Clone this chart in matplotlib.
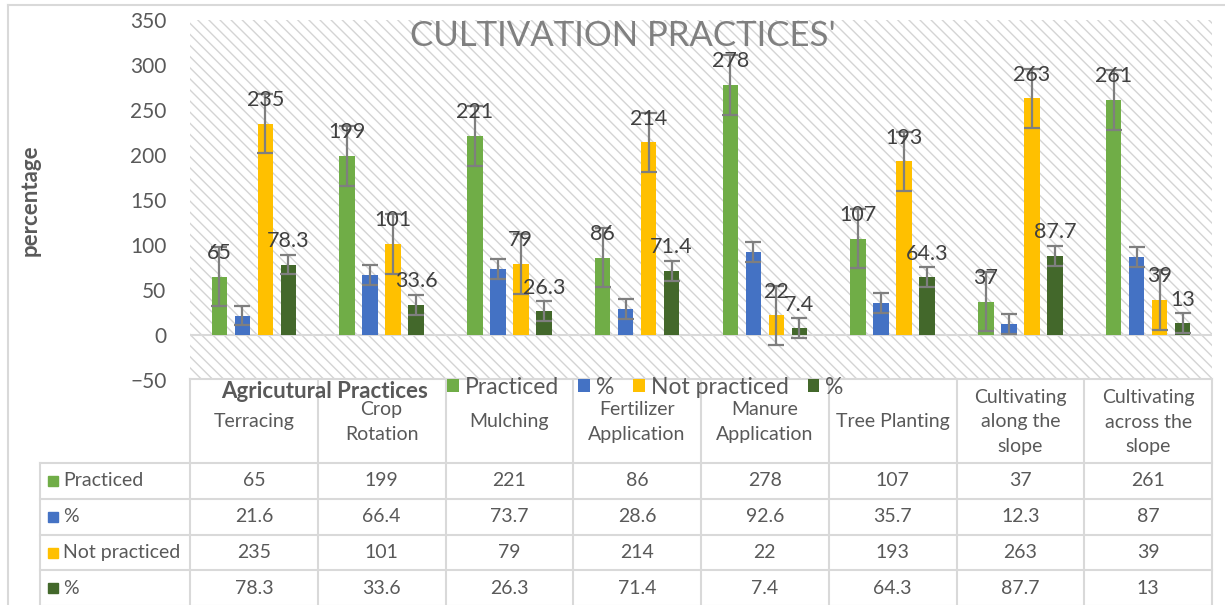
import numpy as np
import matplotlib.pyplot as plt
from matplotlib.patches import Rectangle

plt.rcParams['font.family'] = ['Lato', 'DejaVu Sans']
plt.rcParams['hatch.linewidth'] = 1.0
plt.rcParams['hatch.color'] = '#d4d4d4'

# data
practices = ['Terracing', 'Crop\nRotation', 'Mulching', 'Fertilizer\nApplication',
             'Manure\nApplication', 'Tree Planting', 'Cultivating\nalong the\nslope',
             'Cultivating\nacross the\nslope']
practiced = [65, 199, 221, 86, 278, 107, 37, 261]
practiced_pct = [21.6, 66.4, 73.7, 28.6, 92.6, 35.7, 12.3, 87]
not_practiced = [235, 101, 79, 214, 22, 193, 263, 39]
not_practiced_pct = [78.3, 33.6, 26.3, 71.4, 7.4, 64.3, 87.7, 13]
series_names = ['Practiced', '%', 'Not practiced', '%']
count_err = 33
pct_err = 11

colors = ['#70ad47', '#4472c4', '#ffc000', '#43682b']
series = [practiced, practiced_pct, not_practiced, not_practiced_pct]
errs = [count_err, pct_err, count_err, pct_err]
show_labels = [True, False, True, True]  # the blue series has no data labels

W, H = 1225, 605
fig = plt.figure(figsize=(W / 100, H / 100), dpi=100)

# pixel layout of the plot area
x0, x1, y0, y1 = 190, 1212, 20, 380
ax = fig.add_axes([x0 / W, 1 - y1 / H, (x1 - x0) / W, (y1 - y0) / H])
ax.set_facecolor('white')
ax.add_patch(Rectangle((0, 0), 1, 1, transform=ax.transAxes, fill=False,
                       hatch='\\\\\\', edgecolor='#d4d4d4', linewidth=0, zorder=0))

n = len(practices)
x = np.arange(n)
bw = 0.121
step = 0.18
for i, (vals, col, err) in enumerate(zip(series, colors, errs)):
    xs = x + (i - 1.5) * step
    ax.bar(xs, vals, width=bw, color=col, zorder=2, label=series_names[i])
    ax.errorbar(xs, vals, yerr=err, fmt='none', ecolor='#7f7f7f', elinewidth=1.6,
                capsize=5.8, capthick=1.6, zorder=3)
    if show_labels[i]:
        for xi, v in zip(xs, vals):
            ax.annotate(f'{v:g}', (xi, v), xytext=(0, 17), textcoords='offset points',
                        ha='center', va='center', fontsize=15.5, color='#404040', zorder=4)

ax.axhline(0, color='#d9d9d9', lw=1.5, zorder=1)
ax.set_xlim(-0.5, n - 0.5)
ax.set_ylim(-50, 350)
ax.set_yticks(np.arange(-50, 351, 50))
ax.tick_params(axis='y', length=0, labelsize=15, labelcolor='#595959', pad=17)
ax.set_xticks([])
for s in ax.spines.values():
    s.set_visible(False)

ax.text(0.424, 0.955, "CULTIVATION PRACTICES'", transform=ax.transAxes, ha='center',
        va='center', fontsize=25, color='#808080', zorder=5)

# overlay in pixel coordinates for table, titles, borders
ov = fig.add_axes([0, 0, 1, 1], facecolor='none')
ov.set_xlim(0, W)
ov.set_ylim(H, 0)
ov.axis('off')

ov.text(30, 200, 'percentage', rotation=90, ha='center', va='center',
        fontsize=16, fontweight='bold', color='#595959')

grid = '#d9d9d9'
ov.plot([8, 8], [5, H], color=grid, lw=1.5)
ov.plot([8, W], [5, 5], color=grid, lw=1.5)

col_edges = np.linspace(x0, x1, n + 1)
row_edges = [379, 463, 499, 535, 570, 606]
label_left = 40
ov.plot([x0, x1], [row_edges[0], row_edges[0]], color=grid, lw=1.5)
for r in row_edges[1:]:
    ov.plot([label_left, x1], [r, r], color=grid, lw=1.5)
for c in col_edges:
    ov.plot([c, c], [row_edges[0], H], color=grid, lw=1.5)
ov.plot([label_left, label_left], [row_edges[1], H], color=grid, lw=1.5)

for j, name in enumerate(practices):
    cx = (col_edges[j] + col_edges[j + 1]) / 2
    ov.text(cx, 422, name, ha='center', va='center', fontsize=14,
            color='#595959', linespacing=1.56)

for i, (vals, col, name) in enumerate(zip(series, colors, series_names)):
    cy = (row_edges[i + 1] + row_edges[i + 2]) / 2
    ov.add_patch(Rectangle((48, cy - 5), 10, 10, color=col))
    ov.text(63, cy, name, ha='left', va='center', fontsize=14, color='#595959')
    for j, v in enumerate(vals):
        cx = (col_edges[j] + col_edges[j + 1]) / 2
        ov.text(cx, cy, f'{v:g}', ha='center', va='center', fontsize=14, color='#595959')

ov.text(325, 391, 'Agricutural Practices', ha='center', va='center', fontsize=16,
        fontweight='bold', color='#595959')

handles, labels = ax.get_legend_handles_labels()
fig.legend(handles, labels, loc='center left', bbox_to_anchor=(436 / W, 1 - 387 / H),
           ncol=4, frameon=False, fontsize=16.5, handlelength=0.5, handleheight=0.5,
           handletextpad=0.25, columnspacing=0.85, labelcolor='#595959', borderpad=0)

fig.savefig('out.png', dpi=100)
